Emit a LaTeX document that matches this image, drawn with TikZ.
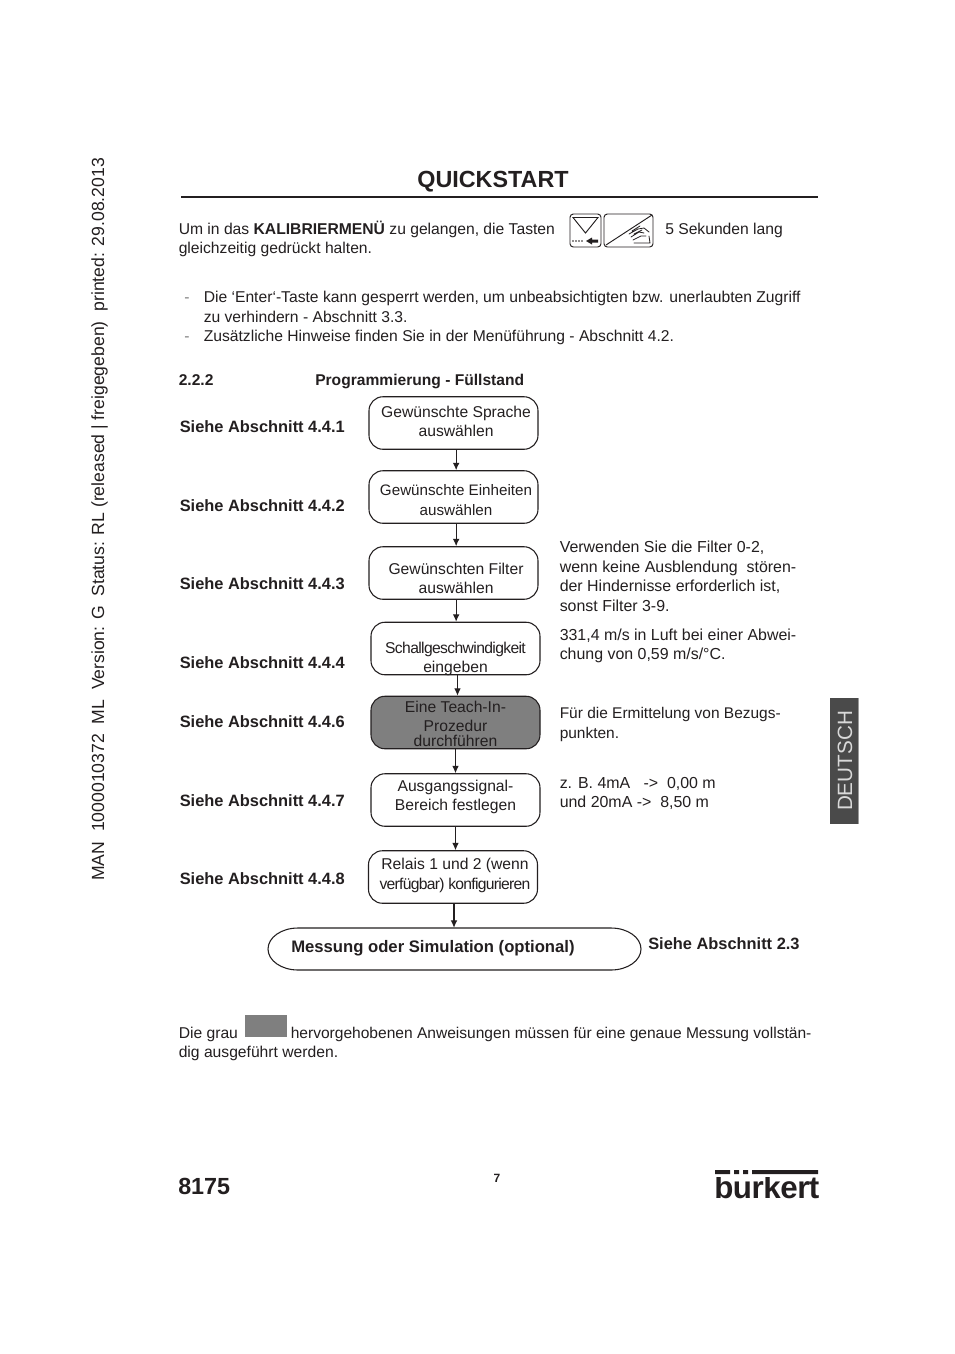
\documentclass[tikz,border=0pt]{standalone}
\usepackage{fontspec}
\setmainfont{Liberation Sans}
\usetikzlibrary{arrows.meta}
\definecolor{ink}{HTML}{231F20}
\definecolor{boxgray}{HTML}{7F7F7F}
\definecolor{tabgray}{HTML}{4A4A4A}
\definecolor{tabedge}{HTML}{9A9A9A}
\newcommand{\bodyfont}{\fontsize{11.75pt}{14.6pt}\selectfont}
\newcommand{\notefont}{\fontsize{11.95pt}{14.6pt}\selectfont}
\newcommand{\boldfont}{\fontsize{11.7pt}{14.6pt}\selectfont\bfseries}
\newcommand{\labelfont}{\fontsize{12.3pt}{14.6pt}\selectfont\bfseries}
% text stack: first baseline dy (#2) from the node centre, moved right by half of #1
\newcommand{\stack}[3]{\hspace*{#1}\raisebox{#2}[0pt][0pt]{\begin{tabular}[t]{@{}c@{}}#3\end{tabular}}}
\tikzset{
  t/.style={anchor=base west,inner sep=0pt,font=\bodyfont,text=ink},
  nt/.style={t,font=\notefont},
  b/.style={anchor=base west,inner sep=0pt,font=\boldfont,text=ink},
  lb/.style={b,font=\labelfont},
  flow/.style={draw=ink,line width=0.8pt,rounded corners=10.5pt,minimum width=126.75pt,minimum height=39.4pt,inner sep=0pt,font=\bodyfont,text=ink},
  teach/.style={flow,fill=boxgray},
  conn/.style={draw=ink,line width=0.8pt,-{Latex[length=5.5pt,width=5pt]}},
  icon/.style={draw=ink,line width=0.7pt},
}
\begin{document}
\begin{tikzpicture}[x=0.75pt,y=-0.75pt]
\useasboundingbox[fill=white] (0,0) rectangle (954,1354);

% side text
\node[anchor=base west,inner sep=0pt,rotate=90,font=\fontsize{13.2pt}{15pt}\selectfont,text=ink] (side) at (104,881) {MAN\ \ 1000010372\ \ ML\ \ Version: G\ \ Status: RL (released | freigegeben)\ \ printed: 29.08.2013};

% title
\node[anchor=base,inner sep=0pt,font=\fontsize{17.5pt}{20pt}\selectfont\bfseries,text=ink] (title) at (493,187) {QUICKSTART};
\fill[ink] (181,196) rectangle (818,198);

% intro
\node[t] (l1) at (178.5,234) {Um in das \textbf{KALIBRIERMENÜ} zu gelangen, die Tasten};
\node[t] (l1b) at (665,234) {5 Sekunden lang};
\node[t] (l2) at (178.5,253) {gleichzeitig gedrückt halten.};

% key icons
\draw[icon,rounded corners=2.5pt] (570,214) rectangle (601,247);
\draw[icon] (573,217.5) -- (598,217.5) -- (585.5,233) -- cycle;
\fill[ink] (573,241) circle (0.9) (576,241) circle (0.9) (579,241) circle (0.9) (582,241) circle (0.9);
\fill[ink] (598,239.5) rectangle (592,242.5) (592,237.5) -- (592,244.5) -- (586,241) -- cycle;
\draw[icon,rounded corners=2.5pt] (604,214) rectangle (653,247);
\draw[icon] (606,245) -- (652,215);
\draw[ink,line width=0.6pt,line cap=round] (629,234) -- (638,229) -- (644,228) -- (649,232) (631,237) -- (639,232) -- (644,233) (633,240) -- (641,236) -- (646,236) (634,243) -- (650,243) -- (649,236) (632,231) -- (640,226) (634,234) -- (642,230);

% bullets
\node[t,text=gray] (d1) at (184,302) {-};
\node[t] (b1) at (203.5,302) {Die ‘Enter‘-Taste kann gesperrt werden, um unbeabsichtigten bzw. unerlaubten Zugriff};
\node[t] (b2) at (203.5,322) {zu verhindern - Abschnitt 3.3.};
\node[t,text=gray] (d2) at (184,341) {-};
\node[t] (b3) at (203.5,341) {Zusätzliche Hinweise finden Sie in der Menüführung - Abschnitt 4.2.};

% section heading
\node[b] (s1) at (178.5,385) {2.2.2};
\node[b] (s2) at (315,385) {Programmierung - Füllstand};

% left labels
\node[lb] (r1) at (179.5,432) {Siehe Abschnitt 4.4.1};
\node[lb] (r2) at (179.5,511) {Siehe Abschnitt 4.4.2};
\node[lb] (r3) at (179.5,589) {Siehe Abschnitt 4.4.3};
\node[lb] (r4) at (179.5,668) {Siehe Abschnitt 4.4.4};
\node[lb] (r5) at (179.5,727) {Siehe Abschnitt 4.4.6};
\node[lb] (r6) at (179.5,806) {Siehe Abschnitt 4.4.7};
\node[lb] (r7) at (179.5,884) {Siehe Abschnitt 4.4.8};

% flow boxes
\node[flow] (f1) at (453.5,423) {\stack{3.8pt}{4.2pt}{Gewünschte Sprache\\auswählen}};
\node[flow] (f2) at (453.5,497) {\stack{3.8pt}{1pt}{\fontsize{11.4pt}{14.6pt}\selectfont Gewünschte Einheiten\\\fontsize{11.4pt}{14.6pt}\selectfont auswählen}};
\node[flow] (f3) at (453.5,573) {\stack{3.8pt}{-1pt}{Gewünschten Filter\\auswählen}};
\node[flow] (f4) at (455.5,648.5) {\stack{0pt}{-3.5pt}{\addfontfeature{LetterSpace=-4}Schallgeschwindigkeit\\eingeben}};
\node[teach] (f5) at (455.5,722.5) {\stack{0pt}{7.5pt}{Eine Teach-In-\\Prozedur\\[-3.5pt]durchführen}};
\node[flow] (f6) at (455.5,800) {\stack{0pt}{6.5pt}{Ausgangssignal-\\Bereich festlegen}};
\node[flow] (f7) at (453,877) {\stack{3pt}{5.5pt}{Relais 1 und 2 (wenn\\\addfontfeature{LetterSpace=-4.5}verfügbar) konfigurieren}};

% final pill
\node[inner sep=0pt,minimum width=280.5pt,minimum height=31.5pt] (f8) at (454.5,949) {};
\draw[draw=ink,line width=0.8pt] (298,928) -- (611,928) arc[start angle=-90,end angle=90,x radius=30,y radius=21] -- (298,970) arc[start angle=90,end angle=270,x radius=30,y radius=21] -- cycle;
\node[lb] (f8t) at (291,952) {\fontsize{12.5pt}{14.6pt}\selectfont Messung oder Simulation (optional)};

% connectors
\draw[conn] ([xshift=2pt]f1.south) -- ([xshift=2pt]f2.north);
\draw[conn] ([xshift=2pt]f2.south) -- ([xshift=2pt]f3.north);
\draw[conn] ([xshift=2pt]f3.south) -- ([xshift=2pt]f3.south |- f4.north);
\draw[conn] ([xshift=1.5pt]f4.south) -- ([xshift=1.5pt]f5.north);
\draw[conn] (f5.south) -- (f6.north);
\draw[conn] (f6.south) -- (f6.south |- f7.north);
\draw[conn] ([xshift=0.75pt]f7.south) -- ([xshift=0.75pt]f7.south |- f8.north);

% right notes
\node[nt] (n1) at (559.5,552) {Verwenden Sie die Filter 0-2,};
\node[nt] (n2) at (559.5,572) {wenn keine Ausblendung\ \ stören-};
\node[nt] (n3) at (559.5,591) {der Hindernisse erforderlich ist,};
\node[nt] (n4) at (559.5,611) {sonst Filter 3-9.};
\node[nt] (n5) at (559.5,640) {331,4 m/s in Luft bei einer Abwei-};
\node[nt] (n6) at (559.5,659) {chung von 0,59 m/s/°C.};
\node[t] (n7) at (559.5,718) {\fontsize{11.6pt}{14.6pt}\selectfont Für die Ermittelung von Bezugs-};
\node[t] (n8) at (559.5,738) {\fontsize{11.6pt}{14.6pt}\selectfont punkten.};
\node[nt] (n9) at (559.5,788) {z. B. 4mA\ \ \ -> \ 0,00 m};
\node[nt] (n10) at (559.5,807) {und 20mA -> \ 8,50 m};
\node[lb] (n11) at (648,949) {Siehe Abschnitt 2.3};

% German tab
\fill[tabgray] (830,698) rectangle (858,824);
\fill[tabedge] (858,698) rectangle (859,824);
\node[anchor=base,inner sep=0pt,rotate=90,font=\fontsize{15.5pt}{18pt}\selectfont,text=white!85!black] (tab) at (852,761) {DEUTSCH};

% note
\node[t] (g1) at (178.5,1038) {Die grau};
\fill[boxgray] (245,1015) rectangle (287,1037);
\node[t] (g2) at (290.5,1038) {\fontsize{11.67pt}{14.6pt}\selectfont hervorgehobenen Anweisungen müssen für eine genaue Messung vollstän-};
\node[t] (g3) at (178.5,1057) {dig ausgeführt werden.};

% footer
\node[anchor=base west,inner sep=0pt,font=\fontsize{17.5pt}{20pt}\selectfont\bfseries,text=ink] (model) at (178,1194) {8175};
\node[anchor=base,inner sep=0pt,font=\fontsize{9pt}{11pt}\selectfont\bfseries,text=ink] (page) at (497,1182) {7};
\node[anchor=base west,inner sep=0pt,font=\fontsize{23.5pt}{26pt}\selectfont\bfseries,text=ink] (logo) at (714,1198) {\addfontfeature{LetterSpace=-1.5}burkert};
\fill[white] (712,1168) rectangle (820,1177);
\fill[ink] (715,1170) rectangle (730,1174) (734,1170) rectangle (739,1174) (743,1170) rectangle (748,1174) (752,1170) rectangle (818,1174);
\end{tikzpicture}
\end{document}
